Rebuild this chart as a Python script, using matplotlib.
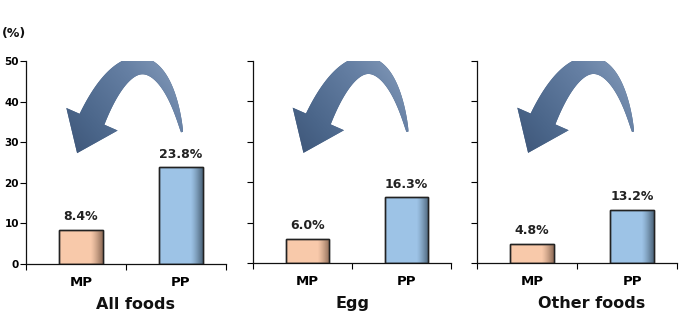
import numpy as np
import matplotlib
matplotlib.use("Agg")
import matplotlib.pyplot as plt
from matplotlib.colors import to_rgb, LinearSegmentedColormap
from matplotlib.patches import Polygon

# ---- data ----
panels = ["All foods", "Egg", "Other foods"]
groups = ["MP", "PP"]
mp_values = [8.4, 6.0, 4.8]
pp_values = [23.8, 16.3, 13.2]
y_ticks = [0, 10, 20, 30, 40, 50]

colors = ["#F8C9AA", "#9DC3E6"]
shade = ["#7a5a48", "#3e5366"]
title_x = [0.545, 0.5, 0.575]

plt.rcParams["font.family"] = ["DejaVu Sans"]

fig = plt.figure(figsize=(6.99, 3.27), dpi=100)
axes_boxes = [
    (26 / 699, 1 - 264 / 327, 200 / 699, 203 / 327),
    (253 / 699, 1 - 263 / 327, 198 / 699, 202 / 327),
    (477 / 699, 1 - 263 / 327, 200 / 699, 202 / 327),
]

arrow_cmap = LinearSegmentedColormap.from_list(
    "arr", ["#34496a", "#4a6589", "#6680a4", "#93a8c4"])


def curved_arrow(ax):
    """Decorative curved arrow built in axes-pixel space."""
    W = ax.bbox.width
    H = ax.bbox.height
    s = fig.dpi / 100.0
    P0 = np.array([0.78 * W, 0.65 * H])     # tail
    P3 = np.array([0.33 * W, 0.713 * H])    # head base
    dh = np.array([-0.40, -0.91])
    dh = dh / np.linalg.norm(dh)
    L = 84 * s
    c1 = np.array([-0.2, 0.98])
    C1 = P0 + c1 / np.linalg.norm(c1) * L
    C2 = P3 - dh * L
    t = np.linspace(0, 1, 160)[:, None]
    pts = ((1 - t) ** 3 * P0 + 3 * (1 - t) ** 2 * t * C1
           + 3 * (1 - t) * t ** 2 * C2 + t ** 3 * P3)
    der = (3 * (1 - t) ** 2 * (C1 - P0) + 6 * (1 - t) * t * (C2 - C1)
           + 3 * t ** 2 * (P3 - C2))
    tan = der / np.linalg.norm(der, axis=1, keepdims=True)
    nrm = np.column_stack([-tan[:, 1], tan[:, 0]])
    w = (2.0 + 25 * t ** 0.75) * s
    left = pts + nrm * w / 2
    right = pts - nrm * w / 2
    d = tan[-1]
    n = nrm[-1]
    hw = 56 * s / 2
    hl = 37 * s
    tip = P3 + d * hl
    poly = np.vstack([left, P3 + n * hw, tip, P3 - n * hw, right[::-1]])
    poly = poly / np.array([W, H])
    patch = Polygon(poly, closed=True, transform=ax.transAxes,
                    facecolor="#4a6589", edgecolor="none", zorder=4)
    ax.add_patch(patch)
    gx, gy = np.meshgrid(np.linspace(0, 1, 80), np.linspace(0, 1, 80))
    g = 0.55 * gx + 0.45 * gy
    im = ax.imshow(g, extent=(0, 1, 0, 1), transform=ax.transAxes,
                   origin="lower", cmap=arrow_cmap, vmin=0.25, vmax=0.95,
                   aspect="auto", zorder=4.5, interpolation="bilinear")
    im.set_clip_path(patch)


for i, name in enumerate(panels):
    ax = fig.add_axes(axes_boxes[i])
    vals = [mp_values[i], pp_values[i]]
    xs = np.arange(len(groups))
    bars = ax.bar(xs, vals, width=0.44, color=colors, edgecolor="#222222",
                  linewidth=1.0, zorder=2)
    for b, sc in zip(bars, shade):
        x0, y0 = b.get_x(), b.get_y()
        w, h = b.get_width(), b.get_height()
        n = 100
        img = np.zeros((1, n, 4))
        img[..., :3] = to_rgb(sc)
        tt = np.linspace(0, 1, n)
        img[0, :, 3] = np.clip((tt - 0.72) / 0.28, 0, 1) ** 1.3 * 0.85
        im = ax.imshow(img, extent=(x0, x0 + w, y0, y0 + h), aspect="auto",
                       zorder=2.5, interpolation="bilinear")
        im.set_clip_path(b)
        ax.add_patch(plt.Rectangle((x0, y0), w, h, fill=False,
                                   edgecolor="#222222", linewidth=1.0, zorder=3))
    for x, v in zip(xs, vals):
        ax.text(x, v + 1.6, f"{v:.1f}%", ha="center", va="bottom",
                fontsize=9, fontweight="bold", color="#222222")

    ax.set_xlim(-0.55, 1.45)
    ax.set_ylim(0, 50)
    ax.set_xticks(xs)
    ax.set_xticklabels(groups, fontsize=9.5, fontweight="bold")
    ax.tick_params(axis="x", length=0, pad=8.5)
    ax.set_xticks([-0.55, 0.45, 1.45], minor=True)
    ax.tick_params(axis="x", which="minor", length=4, width=0.8, direction="out")
    ax.set_yticks(y_ticks)
    ax.tick_params(axis="y", length=4, width=0.8, direction="out", pad=1)
    if i == 0:
        ax.set_yticklabels([str(t) for t in y_ticks], fontsize=7.5, fontweight="bold")
    else:
        ax.set_yticklabels([])
    for s in ["top", "right"]:
        ax.spines[s].set_visible(False)
    for s in ["left", "bottom"]:
        ax.spines[s].set_linewidth(0.9)
        ax.spines[s].set_color("#111111")

    ax.text(title_x[i], -0.165, name, transform=ax.transAxes, ha="center",
            va="top", fontsize=11.5, fontweight="bold", color="#111111")

    curved_arrow(ax)
    ax.set_xlim(-0.55, 1.45)
    ax.set_ylim(0, 50)

fig.text(0.003, 1 - 34 / 327, "(%)", fontsize=9, fontweight="bold",
         ha="left", va="center", color="#111111")

fig.savefig("out.png", dpi=100)
